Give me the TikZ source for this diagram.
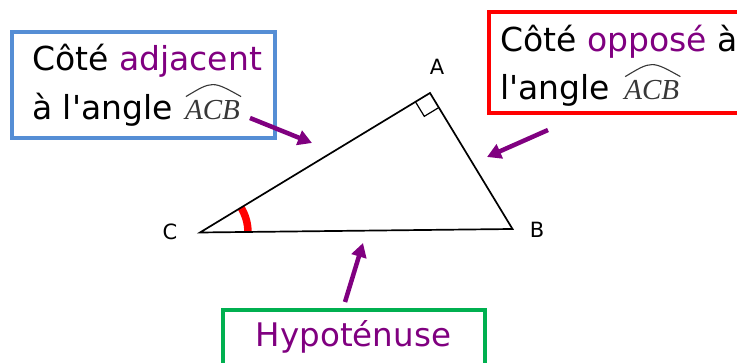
\documentclass[tikz,border=0pt]{standalone}
\usepackage{fontspec}
\setmainfont{DejaVu Sans}
\newfontfamily\acbfont{Liberation Serif}
\usetikzlibrary{arrows.meta,calc,positioning}

\definecolor{boxblue}{RGB}{85,142,213}
\definecolor{boxgreen}{RGB}{0,176,80}
\definecolor{txtpurple}{RGB}{128,0,128}
\definecolor{hatgray}{RGB}{55,55,55}

\tikzset{
  pointer/.style={txtpurple,line width=4.5pt,-{Triangle[length=14pt,width=15pt]}},
  frame/.style={draw,line width=4pt,inner sep=0pt},
  boxtext/.style={anchor=base west,inner sep=0pt,font=\fontsize{33}{38}\selectfont},
  acb/.style={inner sep=0pt,text=hatgray,font=\acbfont\itshape\fontsize{29}{32}\selectfont},
  hat/.style={hatgray,line width=1.1pt},
  vertex/.style={inner sep=0pt,font=\fontsize{21}{24}\selectfont},
}

\begin{document}
\begin{tikzpicture}[x=1pt,y=1pt]
  \useasboundingbox (0,0) rectangle (737,363);
  % triangle
  \coordinate (C) at (200,130.5);
  \coordinate (A) at (430,270);
  \coordinate (B) at (512.5,134);
  \draw[red,line width=7.5pt] (C) ++(0:48) arc[start angle=0,end angle=31.2,radius=48];
  \draw[line width=1.7pt,line join=miter] (A) -- (B) -- (C) -- cycle;
  \coordinate (ra1) at ($(A)!17pt!(C)$);
  \coordinate (ra2) at ($(A)!17pt!(B)$);
  \draw[line width=1.2pt] (ra1) -- ($(ra1)+(ra2)-(A)$) -- (ra2);
  \node[vertex] (labA) at (437,296) {A};
  \node[vertex] (labB) at (537,133) {B};
  \node[vertex] (labC) at (170,131) {C};
  % boxes
  \node[frame,draw=boxblue,minimum width=263pt,minimum height=106pt] (adjbox) at (143.5,278) {};
  \node[frame,draw=red,minimum width=256pt,minimum height=101pt] (oppbox) at (617,300.5) {};
  \node[frame,draw=boxgreen,minimum width=262pt,minimum height=60pt] (hypbox) at (354,23) {};
  \node[boxtext] (adjtop) at (32,292) {Côté \textcolor{txtpurple}{adjacent}};
  \node[boxtext] (adjbot) at (32,243) {à l\textquotesingle angle};
  \node[acb,right=12pt of adjbot.base east,anchor=base west] (adjacb) {ACB};
  \node[boxtext] (opptop) at (500,311) {Côté \textcolor{txtpurple}{opposé} à};
  \node[boxtext] (oppbot) at (500,263) {l\textquotesingle angle};
  \node[acb,right=14pt of oppbot.base east,anchor=base west] (oppacb) {ACB};
  \node[boxtext,anchor=base,text=txtpurple,font=\fontsize{32.5}{36}\selectfont] (hyp) at (353.5,16) {Hypoténuse};
  % hats over ACB
  \draw[hat] ($(adjacb.north west)+(1,4)$) .. controls ($(adjacb.north)+(0,20)$) .. ($(adjacb.north east)+(1,4)$);
  \draw[hat] ($(oppacb.north west)+(1,4)$) .. controls ($(oppacb.north)+(0,20)$) .. ($(oppacb.north east)+(1,4)$);
  % arrows
  \coordinate (adjtail) at (250,245);
  \coordinate (adjtip) at (312,220);
  \coordinate (opptail) at (548,233);
  \coordinate (opptip) at (487,206);
  \coordinate (hyptail) at (345,61);
  \coordinate (hyptip) at (363,120);
  \draw[pointer] (adjtail) -- (adjtip);
  \draw[pointer] (opptail) -- (opptip);
  \draw[pointer] (hyptail) -- (hyptip);
\end{tikzpicture}
\end{document}
